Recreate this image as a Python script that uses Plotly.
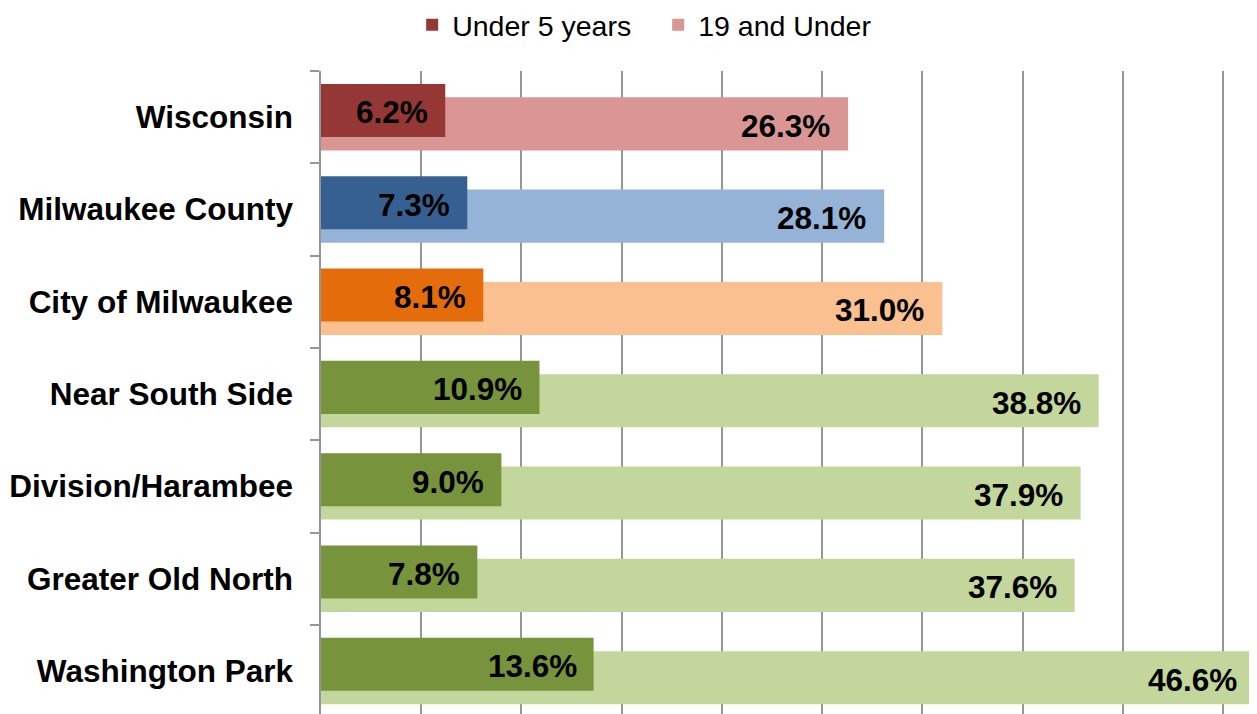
import plotly.graph_objects as go

categories = ["Wisconsin", "Milwaukee County", "City of Milwaukee", "Near South Side",
              "Division/Harambee", "Greater Old North", "Washington Park"]
under5 = [6.2, 7.3, 8.1, 10.9, 9.0, 7.8, 13.6]
under19 = [26.3, 28.1, 31.0, 38.8, 37.9, 37.6, 46.6]
dark_colors = ["#953735", "#376092", "#E46C0A", "#77933C", "#77933C", "#77933C", "#77933C"]
light_colors = ["#D99694", "#95B3D7", "#FAC090", "#C3D69B", "#C3D69B", "#C3D69B", "#C3D69B"]
series_names = ["Under 5 years", "19 and Under"]

FONT = "Arial, 'Liberation Sans', sans-serif"
BAR_W = 0.575
DARK_OFF = -0.36
LIGHT_OFF = -0.215

fig = go.Figure()
fig.add_trace(go.Bar(
    y=categories, x=under19, orientation="h", name=series_names[1],
    marker=dict(color=light_colors, line=dict(width=0)),
    width=BAR_W, offset=LIGHT_OFF, legendrank=2, hoverinfo="x+y",
))
fig.add_trace(go.Bar(
    y=categories, x=under5, orientation="h", name=series_names[0],
    marker=dict(color=dark_colors, line=dict(width=0)),
    width=BAR_W, offset=DARK_OFF, legendrank=1, hoverinfo="x+y",
))

annotations = []
for i, (a, b) in enumerate(zip(under5, under19)):
    annotations.append(dict(
        x=a, y=i + DARK_OFF + BAR_W / 2, xref="x", yref="y",
        text="<b>%.1f%%</b>" % a, showarrow=False, xanchor="right", yanchor="middle",
        xshift=-15, yshift=-2, font=dict(family=FONT, size=31.5, color="#000000"),
    ))
    annotations.append(dict(
        x=b, y=i + LIGHT_OFF + BAR_W / 2, xref="x", yref="y",
        text="<b>%.1f%%</b>" % b, showarrow=False, xanchor="right", yanchor="middle",
        xshift=-16, yshift=-2, font=dict(family=FONT, size=31.5, color="#000000"),
    ))

# page body has an 8px margin; compensate so the plot area lands where the reference has it
fig.update_layout(
    width=1249, height=706,
    margin=dict(l=313, r=0, t=63, b=0, pad=0, autoexpand=False),
    paper_bgcolor="white", plot_bgcolor="white",
    barmode="overlay",
    font=dict(family=FONT, color="#000000"),
    showlegend=True,
    legend=dict(
        orientation="h", xref="container", yref="paper",
        x=0.3236, xanchor="left", y=1.111, yanchor="top",
        font=dict(family=FONT, size=28.5, color="#000000"),
        traceorder="normal", itemclick=False, entrywidth=201,
        bgcolor="rgba(0,0,0,0)",
    ),
    xaxis=dict(
        range=[0, 46.7], showgrid=True, gridcolor="#969696", gridwidth=1.5,
        dtick=5, tick0=0, showticklabels=False, zeroline=False,
        showline=False, ticks="", automargin=False,
    ),
    yaxis=dict(
        type="category", range=[6.466, -0.5], tickson="boundaries",
        ticks="outside", ticklen=9, tickwidth=1.5, tickcolor="#969696",
        showline=True, linecolor="#969696", linewidth=1.5,
        showgrid=False, zeroline=False, ticklabelstandoff=20, automargin=False,
        tickfont=dict(family=FONT, size=31.5, color="#000000", weight="bold"),
    ),
    annotations=annotations,
)

fig.write_html("out.html")
